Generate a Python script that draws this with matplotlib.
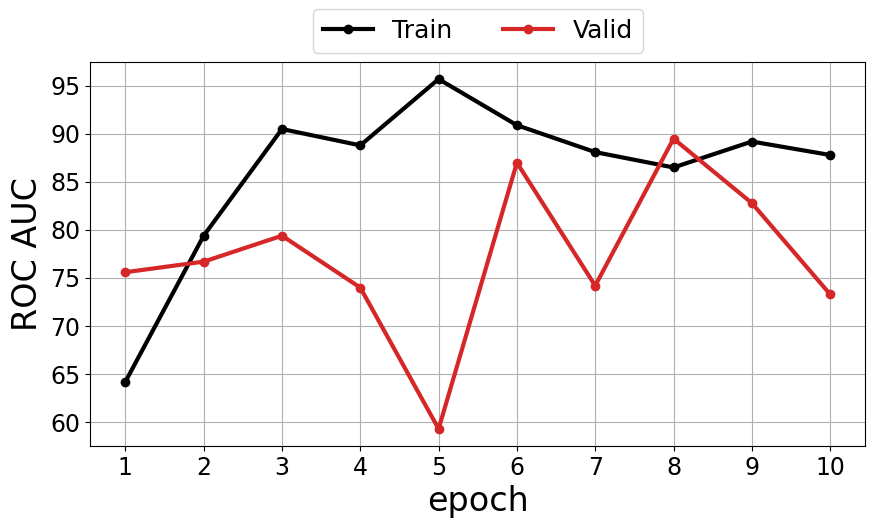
import matplotlib
matplotlib.use('Agg')
import matplotlib.pyplot as plt

# datos
epochs = [1, 2, 3, 4, 5, 6, 7, 8, 9, 10]
train_auc = [64.2, 79.4, 90.5, 88.8, 95.7, 90.9, 88.1, 86.5, 89.2, 87.8]
valid_auc = [75.6, 76.7, 79.4, 74.0, 59.3, 87.0, 74.2, 89.5, 82.8, 73.3]

fig, ax = plt.subplots(figsize=(8.75, 5.28), dpi=100)
ax.plot(epochs, train_auc, '-o', color='black', lw=3, ms=6, label='Train')
ax.plot(epochs, valid_auc, '-o', color='tab:red', lw=3, ms=6, label='Valid')

ax.set_xticks(epochs)
ax.set_xlim(0.55, 10.45)
ax.set_ylim(57.5, 97.5)
ax.tick_params(labelsize=17)
ax.set_xlabel('epoch', fontsize=24)
ax.set_ylabel('ROC AUC', fontsize=24)
ax.grid(True)
ax.set_axisbelow(True)
ax.legend(loc='lower center', bbox_to_anchor=(0.5, 0.99), ncol=2, fontsize=18)

fig.subplots_adjust(left=0.103, right=0.989, top=0.883, bottom=0.155)
fig.savefig('out.png', dpi=100)
